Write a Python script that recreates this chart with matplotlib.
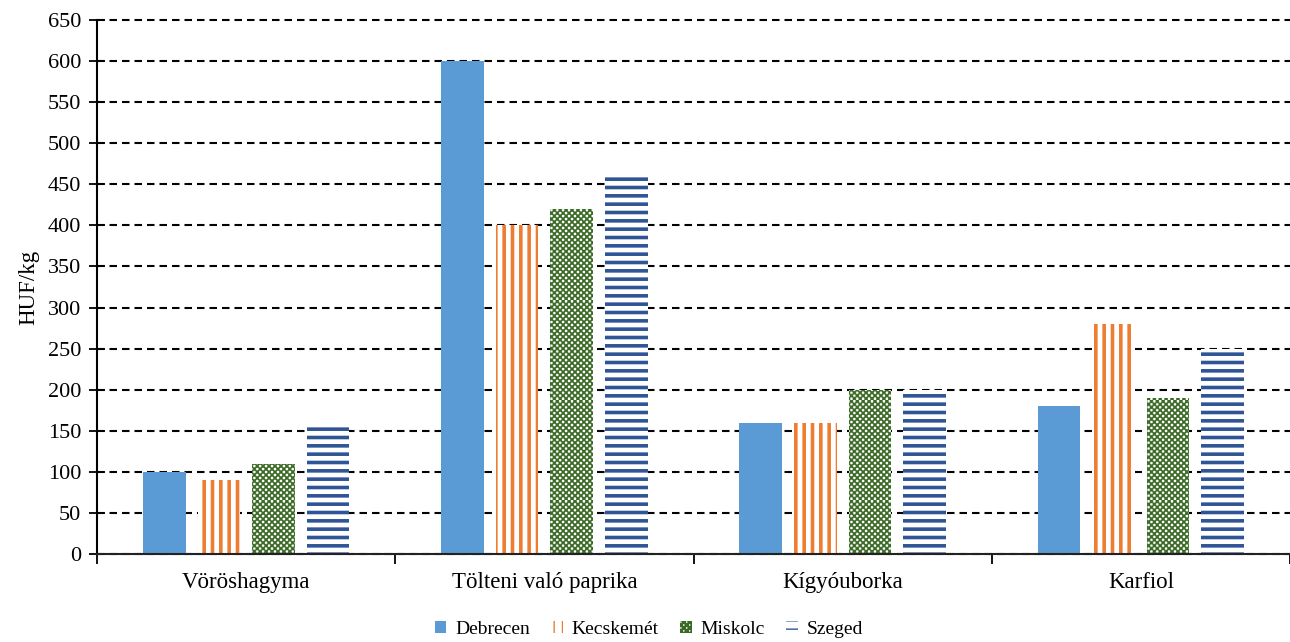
import matplotlib
matplotlib.use("Agg")
import matplotlib.pyplot as plt
import matplotlib.hatch as mhatch
from matplotlib.path import Path
import numpy as np

# ---- data ----
categories = ["Vöröshagyma", "Tölteni való paprika", "Kígyóuborka", "Karfiol"]
cities = ["Debrecen", "Kecskemét", "Miskolc", "Szeged"]
debrecen = [100, 600, 160, 180]
kecskemet = [90, 400, 160, 280]
miskolc = [110, 420, 200, 190]
szeged = [155, 460, 200, 250]
yticks = list(range(0, 651, 50))
ylabel = "HUF/kg"


# ---- checkerboard hatch (replaces the 'O' pattern) ----
class CheckerHatch(mhatch.HatchPatternBase):
    def __init__(self, hatch, density):
        self.n = 34 if "O" in hatch else 0
        self.num_vertices = (self.n * self.n // 2) * 5

    def set_vertices_and_codes(self, vertices, codes):
        n = self.n
        s = 1.0 / n
        k = 0
        for i in range(n):
            for j in range(n):
                if (i + j) % 2 == 0:
                    x0, y0 = i * s, j * s
                    vertices[k:k + 5] = [(x0, y0), (x0 + s, y0), (x0 + s, y0 + s),
                                         (x0, y0 + s), (x0, y0)]
                    codes[k:k + 5] = [Path.MOVETO, Path.LINETO, Path.LINETO,
                                      Path.LINETO, Path.CLOSEPOLY]
                    k += 5


mhatch._hatch_types = [t for t in mhatch._hatch_types
                       if t is not mhatch.LargeCircles] + [CheckerHatch]

plt.rcParams["font.family"] = ["Liberation Serif", "DejaVu Serif"]

fig = plt.figure(figsize=(12.9, 6.42), dpi=100)
ax = fig.add_axes([97 / 1290, 1 - 554 / 642, (1290 - 97) / 1290, (554 - 20) / 642])

x = np.arange(len(categories))
width = 0.143
step = 0.183
offsets = [-1.5 * step, -0.5 * step, 0.5 * step, 1.5 * step]

series = [debrecen, kecskemet, miskolc, szeged]
styles = [
    dict(facecolor="#5B9BD5", edgecolor="#5B9BD5", hatch=None, hlw=None),
    dict(facecolor="white", edgecolor="#ED7D31", hatch="||", hlw=2.6),
    dict(facecolor="white", edgecolor="#3A6A25", hatch="O", hlw=0.4),
    dict(facecolor="white", edgecolor="#2F5597", hatch="--", hlw=2.6),
]

handles = []
for vals, off, st, name in zip(series, offsets, styles, cities):
    bars = ax.bar(x + off, vals, width=width, facecolor=st["facecolor"],
                  edgecolor=st["edgecolor"], linewidth=0, hatch=st["hatch"],
                  label=name, zorder=2)
    if st["hlw"] is not None:
        for b in bars:
            if hasattr(b, "set_hatch_linewidth"):
                b.set_hatch_linewidth(st["hlw"])
    handles.append(bars)

ax.set_xlim(-0.5, (1290 - 247) / 300)
ax.set_ylim(0, 650)
ax.set_yticks(yticks)
ax.set_yticklabels([str(v) for v in yticks])
ax.set_xticks(x)
ax.set_xticklabels(categories)
ax.set_xticks(np.arange(-0.5, len(categories), 1.0), minor=True)

ax.tick_params(axis="y", direction="inout", length=11, width=1.3, labelsize=16, pad=6)
ax.tick_params(axis="x", which="major", length=0, labelsize=16.5, pad=13)
ax.tick_params(axis="x", which="minor", direction="out", length=7, width=1.3)

ax.yaxis.grid(True, color="black", linestyle=(0, (3.6, 2.4)), linewidth=1.5, zorder=0)
ax.set_axisbelow(True)
for gl in ax.get_ygridlines():
    gl.set_clip_on(False)

for side in ["top", "right"]:
    ax.spines[side].set_visible(False)
ax.spines["left"].set_linewidth(1.5)
ax.spines["bottom"].set_linewidth(1.5)
ax.spines["bottom"].set_color("#222222")

ax.set_ylabel(ylabel, fontsize=16.5, labelpad=6)

fig.legend(handles=handles, labels=cities, loc="center", bbox_to_anchor=(0.503, 0.02),
           ncol=4, frameon=False, fontsize=14, handlelength=0.6, handleheight=0.6,
           handletextpad=0.45, columnspacing=1.1)

fig.savefig("out.png", dpi=100)
